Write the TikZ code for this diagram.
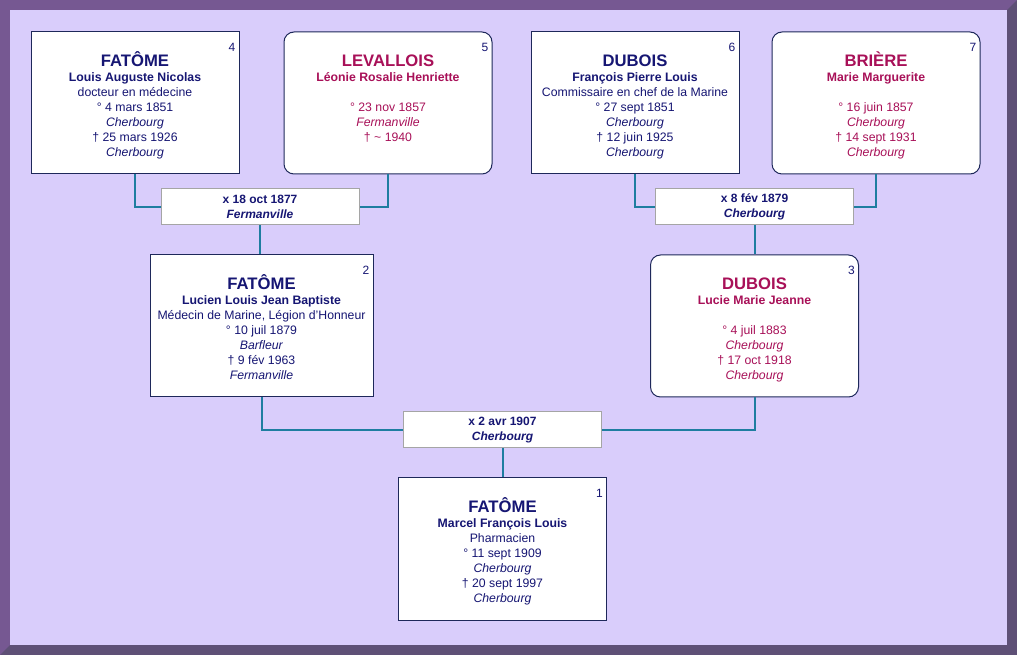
\documentclass[tikz,border=0pt]{standalone}
\usepackage{fontspec}
\setmainfont{Liberation Sans}
\usetikzlibrary{calc}
\definecolor{frameL}{RGB}{118,88,146}
\definecolor{frameD}{RGB}{94,80,118}
\definecolor{bg}{RGB}{217,205,251}
\definecolor{male}{RGB}{22,22,115}
\definecolor{female}{RGB}{168,16,88}
\definecolor{boxline}{RGB}{30,40,90}
\definecolor{conn}{RGB}{30,125,160}
\definecolor{mline}{RGB}{165,165,165}
\tikzset{
 pbox/.style={draw=boxline, line width=0.75pt, fill=white, minimum width=156pt, minimum height=106.5pt, inner sep=0pt},
 wide/.style={minimum width=167.25pt},
 rbox/.style={rounded corners=7.5pt},
 mbox/.style={draw=mline, line width=0.75pt, fill=white, minimum width=148.5pt, minimum height=27pt, inner sep=0pt, align=center, font=\fontsize{9}{11.25}\selectfont\bfseries, text=male},
 ptext/.style={anchor=north, inner sep=0pt, align=center, font=\fontsize{9.2}{11.25}\selectfont},
 num/.style={anchor=north east, inner sep=0pt, font=\fontsize{9}{11}\selectfont, text=male},
 link/.style={draw=conn, line width=1.5pt},
}
\newcommand{\surn}[1]{{\fontsize{12.5}{15}\selectfont\bfseries\vphantom{Ô}#1}}
\newcommand{\givn}[1]{{\bfseries #1}}
\begin{document}
\begin{tikzpicture}[x=0.75pt,y=-0.75pt]
\useasboundingbox (0,0) rectangle (1017,655);
\fill[frameL] (0,0) rectangle (1017,655);
\fill[frameD] (1017,0) -- (1017,655) -- (0,655) -- (10,645) -- (1007,645) -- (1007,10) -- cycle;
\fill[bg] (10,10) rectangle (1007,645);

\node[pbox] (p4) at (135,103) {};
\node[pbox,rbox] (p5) at (388,103) {};
\node[pbox] (p6) at (635,103) {};
\node[pbox,rbox] (p7) at (876,103) {};
\node[pbox,wide] (p2) at (261.5,326) {};
\node[pbox,rbox] (p3) at (754.5,326) {};
\node[pbox] (p1) at (502.5,549) {};

\node[mbox] (m1) at (260,207) {x 18 oct 1877\\\itshape Fermanville};
\node[mbox] (m2) at (754.5,207) {x 8 fév 1879\\\itshape Cherbourg};
\node[mbox] (m3) at (502.5,430) {x 2 avr 1907\\\itshape Cherbourg};

\draw[link] (p4.south) |- (m1.west);
\draw[link] (p5.south) |- (m1.east);
\draw[link] (m1.south) -- (m1.south |- p2.north);
\draw[link] (p6.south) |- (m2.west);
\draw[link] (p7.south) |- (m2.east);
\draw[link] (m2.south) -- (m2.south |- p3.north);
\draw[link] (p2.south) |- (m3.west);
\draw[link] (p3.south) |- (m3.east);
\draw[link] (m3.south) -- (p1.north);

\node[ptext,text=male] (t4) at ($(p4.north)+(0,20)$) {\surn{FATÔME}\\\givn{Louis Auguste Nicolas}\\docteur en médecine\\° 4 mars 1851\\\textit{Cherbourg}\\† 25 mars 1926\\\textit{Cherbourg}};
\node[ptext,text=female] (t5) at ($(p5.north)+(0,20)$) {\surn{LEVALLOIS}\\\givn{Léonie Rosalie Henriette}\\\mbox{}\\° 23 nov 1857\\\textit{Fermanville}\\† \textasciitilde{} 1940};
\node[ptext,text=male] (t6) at ($(p6.north)+(0,20)$) {\surn{DUBOIS}\\\givn{François Pierre Louis}\\Commissaire en chef de la Marine\\° 27 sept 1851\\\textit{Cherbourg}\\† 12 juin 1925\\\textit{Cherbourg}};
\node[ptext,text=female] (t7) at ($(p7.north)+(0,20)$) {\surn{BRIÈRE}\\\givn{Marie Marguerite}\\\mbox{}\\° 16 juin 1857\\\textit{Cherbourg}\\† 14 sept 1931\\\textit{Cherbourg}};
\node[ptext,text=male] (t2) at ($(p2.north)+(0,20)$) {\surn{FATÔME}\\\givn{Lucien Louis Jean Baptiste}\\Médecin de Marine, Légion d'Honneur\\° 10 juil 1879\\\textit{Barfleur}\\† 9 fév 1963\\\textit{Fermanville}};
\node[ptext,text=female] (t3) at ($(p3.north)+(0,20)$) {\surn{DUBOIS}\\\givn{Lucie Marie Jeanne}\\\mbox{}\\° 4 juil 1883\\\textit{Cherbourg}\\† 17 oct 1918\\\textit{Cherbourg}};
\node[ptext,text=male] (t1) at ($(p1.north)+(0,20)$) {\surn{FATÔME}\\\givn{Marcel François Louis}\\Pharmacien\\° 11 sept 1909\\\textit{Cherbourg}\\† 20 sept 1997\\\textit{Cherbourg}};

\node[num] (n4) at ($(p4.north east)+(-4,11)$) {4};
\node[num] (n5) at ($(p5.north east)+(-4,11)$) {5};
\node[num] (n6) at ($(p6.north east)+(-4,11)$) {6};
\node[num] (n7) at ($(p7.north east)+(-4,11)$) {7};
\node[num] (n2) at ($(p2.north east)+(-4,11)$) {2};
\node[num] (n3) at ($(p3.north east)+(-4,11)$) {3};
\node[num] (n1) at ($(p1.north east)+(-4,11)$) {1};
\end{tikzpicture}
\end{document}
